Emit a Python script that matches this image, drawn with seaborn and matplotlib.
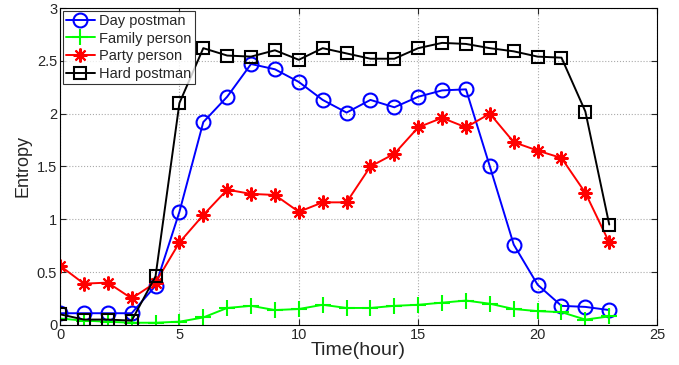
import matplotlib
matplotlib.use("Agg")
import matplotlib.pyplot as plt
import seaborn as sns
import numpy as np
import pandas as pd

hours = list(range(24))
day_postman = [0.11, 0.11, 0.11, 0.11, 0.37, 1.07, 1.92, 2.16, 2.47, 2.42, 2.30, 2.13,
               2.01, 2.13, 2.06, 2.16, 2.22, 2.23, 1.50, 0.76, 0.38, 0.18, 0.17, 0.14]
family_person = [0.06, 0.04, 0.03, 0.02, 0.02, 0.03, 0.07, 0.16, 0.18, 0.14, 0.15, 0.19,
                 0.16, 0.16, 0.18, 0.19, 0.21, 0.23, 0.20, 0.15, 0.13, 0.12, 0.05, 0.08]
party_person = [0.56, 0.39, 0.40, 0.25, 0.40, 0.78, 1.04, 1.28, 1.24, 1.23, 1.07, 1.16,
                1.16, 1.50, 1.62, 1.87, 1.96, 1.87, 2.00, 1.73, 1.65, 1.58, 1.25, 0.78]
hard_postman = [0.10, 0.05, 0.05, 0.04, 0.46, 2.10, 2.62, 2.55, 2.54, 2.60, 2.51, 2.62,
                2.57, 2.52, 2.52, 2.62, 2.67, 2.66, 2.62, 2.59, 2.54, 2.53, 2.02, 0.95]

series = ["Day postman", "Family person", "Party person", "Hard postman"]
values = [day_postman, family_person, party_person, hard_postman]
colors = ["#0000ff", "#00ff00", "#ff0000", "#000000"]
markers = ["o", "+", (8, 2, 0), "s"]
msizes = [10, 11, 10, 8]

sns.set_style("white")
plt.rcParams['font.family'] = ['Liberation Sans', 'DejaVu Sans']

fig = plt.figure(figsize=(6.79, 3.65), dpi=100)
ax = fig.add_axes([0.0884, 0.110, 0.8792, 0.868])

for name, vals, c, m, ms in zip(series, values, colors, markers, msizes):
    df = pd.DataFrame({"hour": hours, "val": vals})
    kw = dict(marker=m, markersize=ms, color=c, linewidth=1.4, label=name)
    if m in ("o", "s"):
        kw.update(markerfacecolor="none", markeredgecolor=c, markeredgewidth=1.5)
    else:
        kw.update(markeredgecolor=c, markeredgewidth=1.5)
    sns.lineplot(data=df, x="hour", y="val", ax=ax, **kw)

ax.set_xlim(0, 25)
ax.set_ylim(0, 3)
ax.set_xticks([0, 5, 10, 15, 20, 25])
ax.set_yticks([0, 0.5, 1, 1.5, 2, 2.5, 3])
ax.set_yticklabels(["0", "0.5", "1", "1.5", "2", "2.5", "3"])
ax.grid(True, linestyle=":", color="#aaaaaa", linewidth=0.8)
ax.tick_params(direction="in", labelsize=10.5, length=4, top=True, right=True,
               bottom=True, left=True, pad=2)
for s in ax.spines.values():
    s.set_color("black")
    s.set_linewidth(0.8)
ax.set_xlabel("Time(hour)", fontsize=14, labelpad=0)
ax.set_ylabel("Entropy", fontsize=13, labelpad=4)

leg = ax.legend(loc="upper left", fontsize=10.5, frameon=True, fancybox=False,
                edgecolor="black", borderpad=0.2, labelspacing=0.25,
                handlelength=2.0, handletextpad=0.3, borderaxespad=0.2)
leg.get_frame().set_linewidth(0.8)

fig.savefig("out.png", dpi=100)
